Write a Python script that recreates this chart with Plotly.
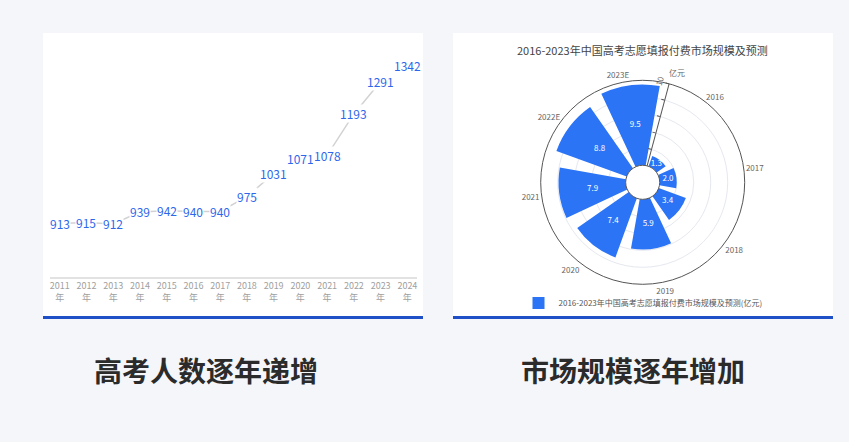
import math
import plotly.graph_objects as go

W, H = 849, 442

# left: college entrance examinees per year (10k people)
years = ["2011", "2012", "2013", "2014", "2015", "2016", "2017",
         "2018", "2019", "2020", "2021", "2022", "2023", "2024"]
examinees = [913, 915, 912, 939, 942, 940, 940, 975, 1031, 1071, 1078, 1193, 1291, 1342]

# right: paid application-filling market size (100M yuan)
market_years = ["2016", "2017", "2018", "2019", "2020", "2021", "2022E", "2023E"]
market_size = [1.3, 2.0, 3.4, 5.9, 7.4, 7.9, 8.8, 9.5]
market_name = "2016-2023年中国高考志愿填报付费市场规模及预测(亿元)"
market_title = "2016-2023年中国高考志愿填报付费市场规模及预测"

captions = ["高考人数逐年递增", "市场规模逐年增加"]

BG = "#f5f6fa"
BLUE = "#2b74f6"
LABEL_BLUE = "#2d67ec"
DARK_BLUE = "#1f50c8"
CJK = "Noto Sans CJK SC, Noto Sans, sans-serif"


def px(x):
    return x / W


def py(y):
    return 1 - y / H


fig = go.Figure()

# line chart
fig.add_trace(go.Scatter(x=years, y=examinees, mode="lines",
                         line=dict(color="#d2d2d2", width=1.5),
                         hoverinfo="skip", showlegend=False))

# polar bars
fig.add_trace(go.Barpolar(r=market_size, theta=market_years, name=market_name,
                          marker=dict(color=BLUE, line=dict(width=0)),
                          subplot="polar"))
fig.add_trace(go.Scatterpolar(r=[v / 2 for v in market_size], theta=market_years,
                              mode="text", text=[f"{v:.1f}" for v in market_size],
                              textfont=dict(size=8, color="white", family=CJK),
                              subplot="polar", showlegend=False, hoverinfo="skip"))

shapes = []
for x0, x1 in [(43, 423), (453, 833)]:
    shapes.append(dict(type="rect", xref="paper", yref="paper", layer="below",
                       x0=px(x0), x1=px(x1), y0=py(316), y1=py(33),
                       fillcolor="white", line=dict(width=0)))
    shapes.append(dict(type="rect", xref="paper", yref="paper", layer="below",
                       x0=px(x0), x1=px(x1), y0=py(319), y1=py(316),
                       fillcolor=DARK_BLUE, line=dict(width=0)))

annos = []
# value labels sit on the line with a white box, hiding the line under them
# (annotations on a log axis take log10 positions)
for i, v in enumerate(examinees):
    annos.append(dict(x=i, y=math.log10(v), xref="x", yref="y", text=str(v),
                      showarrow=False, xanchor="center", yanchor="middle",
                      font=dict(size=12, color=LABEL_BLUE, family=CJK),
                      bgcolor="white", borderpad=0))
annos.append(dict(x=px(642.5), y=py(50), xref="paper", yref="paper", text=market_title,
                  xanchor="center", yanchor="middle",
                  showarrow=False, font=dict(size=11, color="#444", family=CJK)))
annos.append(dict(x=px(677), y=py(73), xref="paper", yref="paper", text="亿元",
                  xanchor="center", yanchor="middle",
                  showarrow=False, font=dict(size=8, color="#666", family=CJK)))
for cx, cap in zip([206, 633], captions):
    annos.append(dict(x=px(cx), y=py(370), xref="paper", yref="paper",
                      xanchor="center", yanchor="middle",
                      text=f"<b>{cap}</b>", showarrow=False,
                      font=dict(size=28, color="#2b2b2b", family=CJK)))

fig.update_layout(
    width=W, height=H, margin=dict(l=0, r=0, t=0, b=0),
    paper_bgcolor=BG, plot_bgcolor="white",
    font=dict(family=CJK),
    xaxis=dict(domain=[px(50), px(417)], range=[-0.36, 13.36], type="category",
               showgrid=False, zeroline=False, showline=True, linecolor="#e2e2e2",
               linewidth=1.5, ticks="", tickvals=years,
               ticktext=[f"{y}<br>年" for y in years],
               tickfont=dict(size=9, color="#a0a0a0")),
    yaxis=dict(domain=[py(276.7), py(40)], type="log", range=[2.904, 3.155],
               visible=False),
    polar=dict(
        domain=dict(x=[px(540.7), px(744.7)], y=[py(284.3), py(80.3)]),
        bgcolor="white", hole=0.167, bargap=0.22,
        angularaxis=dict(type="category", rotation=52.5, direction="clockwise",
                         showline=True, linecolor="#555", linewidth=1,
                         showgrid=False, ticks="",
                         tickfont=dict(size=8, color="#666")),
        radialaxis=dict(range=[0, 10], angle=75, showline=True, linecolor="#555",
                        linewidth=1, tickvals=[2, 4, 6, 8, 10],
                        ticktext=["", "", "", "", "10"], ticks="outside", ticklen=3,
                        tickcolor="#555", gridcolor="#e6e8f0", tickangle=0,
                        side="counterclockwise",
                        tickfont=dict(size=8, color="#666")),
    ),
    showlegend=True,
    legend=dict(orientation="h", x=px(643), xanchor="center", y=py(303),
                yanchor="middle", bgcolor="rgba(0,0,0,0)",
                font=dict(size=8, color="#555")),
    shapes=shapes, annotations=annos,
)

fig.write_html("out.html", config={"displayModeBar": False},
               post_script="document.body.style.margin='0px';")
